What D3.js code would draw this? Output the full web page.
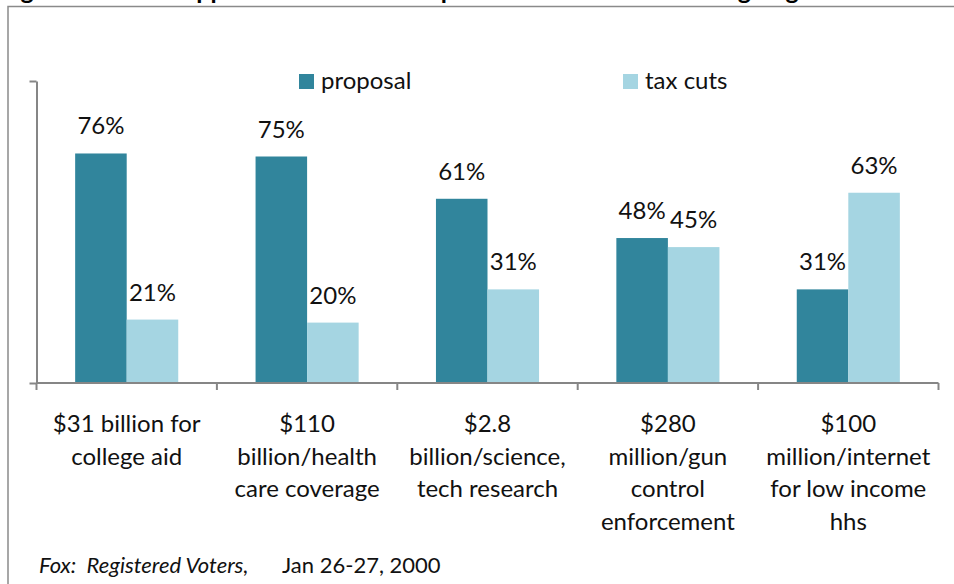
<!DOCTYPE html>
<html>
<head>
<meta charset="utf-8">
<script src="https://cdn.jsdelivr.net/npm/d3@7"></script>
<style>
  html, body { margin: 0; padding: 0; background: #fff; overflow: hidden; }
  svg { display: block; font-family: Lato, "Open Sans", sans-serif; }
  .keep-space { white-space: pre; }
</style>
</head>
<body>
<svg id="chart" width="954" height="584"></svg>
<script>
// Survey: support for each spending proposal vs. using the money for tax cuts
const categories = [
  "$31 billion for college aid",
  "$110 billion/health care coverage",
  "$2.8 billion/science, tech research",
  "$280 million/gun control enforcement",
  "$100 million/internet for low income hhs"
];
const categoryLines = [
  ["$31 billion for", "college aid"],
  ["$110", "billion/health", "care coverage"],
  ["$2.8", "billion/science,", "tech research"],
  ["$280", "million/gun", "control", "enforcement"],
  ["$100", "million/internet", "for low income", "hhs"]
];
const seriesNames = ["proposal", "tax cuts"];
const proposal = [76, 75, 61, 48, 31];
const taxCuts = [21, 20, 31, 45, 63];
const colors = ["#31859C", "#A5D5E2"];
const titleText = "Figure 9. Voter Support for Clinton's Surplus Versus Tax Cuts Among Registered Voters";
const sourceItalic = "Fox:  Registered Voters,";
const sourceDate = "Jan 26-27, 2000";

const svg = d3.select("#chart");
const axisColor = "#868686";
const textColor = "#111";

// Outer frame (runs off the right and bottom edges)
svg.append("rect")
  .attr("x", 8).attr("y", 6.5)
  .attr("width", 1000).attr("height", 700)
  .attr("fill", "none").attr("stroke", "#8a8a8a").attr("stroke-width", 1.5);

// Title, sitting above the visible area
svg.append("text")
  .attr("x", 0).attr("y", -1)
  .attr("font-size", 25).attr("font-weight", "bold")
  .attr("fill", "#000")
  .text(titleText);

const plot = { left: 36.5, right: 938.5, top: 81, bottom: 383 };

const x0 = d3.scaleBand().domain(categories).range([plot.left, plot.right]).padding(0);
const x1 = d3.scaleBand().domain(seriesNames).range([0, x0.bandwidth()])
  .paddingInner(0).paddingOuter(0.75);
const y = d3.scaleLinear().domain([0, 100]).range([plot.bottom, plot.top]);

const rows = categories.map((c, i) => ({
  cat: c,
  values: [
    { key: "proposal", value: proposal[i] },
    { key: "tax cuts", value: taxCuts[i] }
  ]
}));

// Bars
const groups = svg.append("g").selectAll("g")
  .data(rows).join("g")
  .attr("transform", d => `translate(${x0(d.cat)},0)`);

groups.selectAll("rect")
  .data(d => d.values).join("rect")
  .attr("x", d => x1(d.key))
  .attr("y", d => y(d.value))
  .attr("width", x1.bandwidth())
  .attr("height", d => y(0) - y(d.value))
  .attr("fill", (d, i) => colors[i]);

// Value labels
groups.selectAll("text.val")
  .data(d => d.values).join("text")
  .attr("class", "val")
  .attr("x", d => x1(d.key) + x1.bandwidth() / 2)
  .attr("y", d => y(d.value) - 19)
  .attr("text-anchor", "middle")
  .attr("font-size", 24)
  .attr("fill", textColor)
  .text(d => d.value + "%");

// Y axis: line with ticks at 0 and 100, no labels
const yAxis = svg.append("g")
  .attr("transform", `translate(${plot.left},0)`)
  .call(d3.axisLeft(y).tickValues([0, 100]).tickSize(7).tickSizeOuter(0).tickFormat(""));
yAxis.selectAll("path, line").attr("stroke", axisColor).attr("stroke-width", 2);

// X axis: baseline with ticks at category boundaries
const boundaries = categories.map(c => x0(c)).concat([plot.right]);
const xAxis = svg.append("g");
xAxis.append("line")
  .attr("x1", plot.left).attr("x2", plot.right)
  .attr("y1", y(0)).attr("y2", y(0))
  .attr("stroke", axisColor).attr("stroke-width", 2);
xAxis.selectAll("line.tick")
  .data(boundaries).join("line")
  .attr("class", "tick")
  .attr("x1", d => d).attr("x2", d => d)
  .attr("y1", y(0)).attr("y2", y(0) + 7)
  .attr("stroke", axisColor).attr("stroke-width", 2);

// Category labels
const catLabels = svg.append("g").selectAll("text")
  .data(rows).join("text")
  .attr("text-anchor", "middle")
  .attr("font-size", 24)
  .attr("fill", textColor);
catLabels.each(function (d, i) {
  const t = d3.select(this);
  const cx = x0(d.cat) + x0.bandwidth() / 2;
  categoryLines[i].forEach((line, j) => {
    t.append("tspan")
      .attr("x", cx)
      .attr("y", 432 + j * 32.5)
      .text(line);
  });
});

// Legend
const legendPos = [299, 623];
const legend = svg.append("g").selectAll("g")
  .data(seriesNames).join("g")
  .attr("transform", (d, i) => `translate(${legendPos[i]},74)`);
legend.append("rect")
  .attr("width", 15).attr("height", 15)
  .attr("fill", (d, i) => colors[i]);
legend.append("text")
  .attr("x", 22).attr("y", 15)
  .attr("font-size", 24)
  .attr("fill", textColor)
  .text(d => d);

// Source note
svg.append("text")
  .attr("class", "keep-space")
  .attr("x", 39).attr("y", 573)
  .attr("font-size", 22).attr("font-style", "italic")
  .attr("fill", textColor)
  .text(sourceItalic);
svg.append("text")
  .attr("x", 282).attr("y", 573)
  .attr("font-size", 22)
  .attr("fill", textColor)
  .text(sourceDate);
</script>
</body>
</html>
